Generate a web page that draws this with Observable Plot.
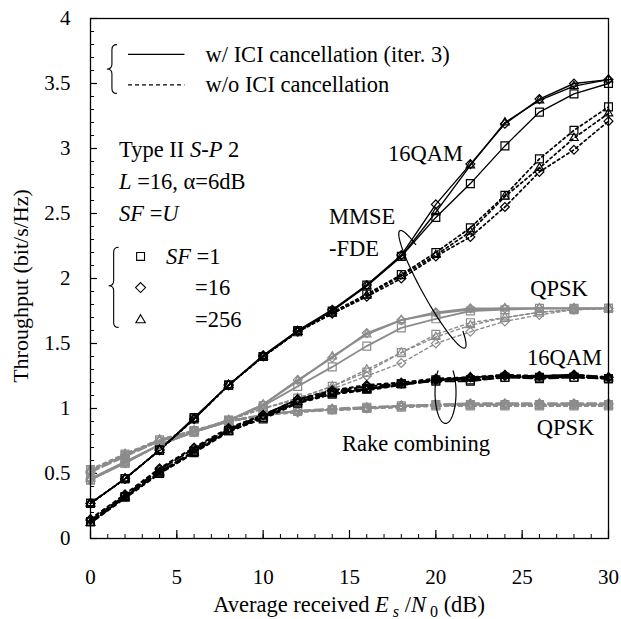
<!DOCTYPE html>
<html><head><meta charset="utf-8">
<script src="https://cdn.jsdelivr.net/npm/d3@7"></script>
<script src="https://cdn.jsdelivr.net/npm/@observablehq/plot@0.6"></script>
<style>body{margin:0;background:#fff}</style>
</head><body><div id="chart"></div>
<script>
const FONT = "'Liberation Serif', 'DejaVu Serif', serif";
const GRAY = "#8c8c8c";

// x values (Es/N0 in dB)
const snr = [0,2,4,6,8,10,12,14,16,18,20,22,24,26,28,30];

// MMSE-FDE, 16QAM
const mmse16_w_sf1   = [0.27,0.46,0.68,0.93,1.18,1.40,1.60,1.75,1.95,2.17,2.47,2.73,3.02,3.28,3.42,3.50];
const mmse16_w_sf16  = [0.27,0.46,0.68,0.92,1.18,1.41,1.60,1.76,1.95,2.18,2.57,2.88,3.19,3.38,3.50,3.53];
const mmse16_w_sf256 = [0.27,0.46,0.68,0.92,1.18,1.40,1.59,1.75,1.94,2.17,2.51,2.87,3.20,3.37,3.48,3.53];
const mmse16_wo_sf1   = [0.27,0.46,0.68,0.92,1.18,1.40,1.59,1.74,1.88,2.03,2.20,2.39,2.64,2.92,3.14,3.32];
const mmse16_wo_sf16  = [0.27,0.46,0.68,0.92,1.18,1.40,1.59,1.73,1.86,2.00,2.17,2.32,2.55,2.82,2.99,3.21];
const mmse16_wo_sf256 = [0.27,0.46,0.68,0.92,1.18,1.40,1.59,1.73,1.87,2.02,2.18,2.36,2.63,2.85,3.08,3.27];
// MMSE-FDE, QPSK
const mmseQ_w_sf1   = [0.45,0.58,0.72,0.82,0.91,1.02,1.17,1.32,1.48,1.62,1.69,1.75,1.76,1.77,1.77,1.77];
const mmseQ_w_sf16  = [0.46,0.59,0.72,0.82,0.91,1.03,1.22,1.39,1.58,1.68,1.74,1.77,1.77,1.77,1.77,1.77];
const mmseQ_w_sf256 = [0.46,0.59,0.72,0.82,0.91,1.03,1.21,1.40,1.57,1.68,1.73,1.76,1.77,1.77,1.77,1.77];
const mmseQ_wo_sf1   = [0.45,0.58,0.72,0.82,0.91,1.00,1.08,1.17,1.28,1.43,1.57,1.66,1.70,1.74,1.76,1.77];
const mmseQ_wo_sf16  = [0.45,0.58,0.72,0.82,0.91,1.00,1.07,1.15,1.25,1.35,1.50,1.59,1.67,1.72,1.76,1.77];
const mmseQ_wo_sf256 = [0.46,0.58,0.72,0.82,0.91,1.00,1.08,1.17,1.30,1.43,1.55,1.64,1.70,1.74,1.76,1.77];
// Rake combining, 16QAM
const rake16_w_sf1   = [0.13,0.32,0.51,0.67,0.83,0.93,1.05,1.12,1.15,1.19,1.21,1.21,1.24,1.23,1.24,1.23];
const rake16_w_sf16  = [0.14,0.33,0.53,0.69,0.84,0.95,1.07,1.13,1.17,1.19,1.22,1.24,1.25,1.25,1.26,1.24];
const rake16_w_sf256 = [0.12,0.32,0.51,0.67,0.83,0.94,1.05,1.12,1.15,1.18,1.22,1.23,1.25,1.24,1.25,1.24];
const rake16_wo_sf1   = [0.13,0.32,0.50,0.66,0.83,0.92,1.04,1.11,1.15,1.19,1.22,1.22,1.24,1.24,1.24,1.23];
const rake16_wo_sf16  = [0.15,0.34,0.54,0.70,0.85,0.95,1.07,1.14,1.18,1.20,1.23,1.24,1.26,1.25,1.26,1.24];
const rake16_wo_sf256 = [0.12,0.31,0.50,0.66,0.82,0.93,1.05,1.11,1.14,1.18,1.22,1.24,1.25,1.24,1.25,1.23];
// Rake combining, QPSK
const rakeQ_w_sf1   = [0.52,0.64,0.75,0.82,0.90,0.95,0.98,0.99,1.01,1.02,1.03,1.03,1.03,1.03,1.03,1.03];
const rakeQ_w_sf16  = [0.51,0.63,0.75,0.82,0.90,0.95,0.98,1.00,1.01,1.02,1.03,1.04,1.04,1.04,1.04,1.04];
const rakeQ_w_sf256 = [0.52,0.64,0.76,0.83,0.90,0.95,0.98,0.99,1.00,1.02,1.02,1.03,1.03,1.03,1.03,1.03];
const rakeQ_wo_sf1   = [0.53,0.65,0.76,0.83,0.91,0.95,0.98,0.99,1.00,1.01,1.02,1.02,1.02,1.02,1.02,1.02];
const rakeQ_wo_sf16  = [0.52,0.64,0.75,0.82,0.90,0.95,0.97,0.99,1.00,1.02,1.03,1.03,1.03,1.03,1.03,1.03];
const rakeQ_wo_sf256 = [0.53,0.65,0.76,0.83,0.90,0.95,0.98,0.99,1.00,1.01,1.02,1.02,1.02,1.02,1.02,1.02];

const xTicks = [0,5,10,15,20,25,30];
const yTicks = [0,0.5,1,1.5,2,2.5,3,3.5,4];
const sfValues = [1,16,256];
const sfSymbols = ["square2","diamond2","triangle2"];

// series table
const seriesDefs = [
  ["MMSE","16QAM","w",[mmse16_w_sf1,mmse16_w_sf16,mmse16_w_sf256]],
  ["MMSE","16QAM","wo",[mmse16_wo_sf1,mmse16_wo_sf16,mmse16_wo_sf256]],
  ["MMSE","QPSK","w",[mmseQ_w_sf1,mmseQ_w_sf16,mmseQ_w_sf256]],
  ["MMSE","QPSK","wo",[mmseQ_wo_sf1,mmseQ_wo_sf16,mmseQ_wo_sf256]],
  ["Rake","16QAM","w",[rake16_w_sf1,rake16_w_sf16,rake16_w_sf256]],
  ["Rake","16QAM","wo",[rake16_wo_sf1,rake16_wo_sf16,rake16_wo_sf256]],
  ["Rake","QPSK","w",[rakeQ_w_sf1,rakeQ_w_sf16,rakeQ_w_sf256]],
  ["Rake","QPSK","wo",[rakeQ_wo_sf1,rakeQ_wo_sf16,rakeQ_wo_sf256]],
];
const rows = [];
for (const [rx, mod, ici, arrs] of seriesDefs) {
  arrs.forEach((arr, k) => arr.forEach((v, i) => rows.push({x: snr[i], y: v, rx, mod, ici, sf: sfValues[k], group: `${rx}-${mod}-${ici}`})));
}

const styles = {
  "Rake-QPSK-w":   {stroke: GRAY, strokeWidth: 2, strokeDasharray: "9,4"},
  "Rake-QPSK-wo":  {stroke: GRAY, strokeWidth: 2, strokeDasharray: "3,4"},
  "MMSE-QPSK-w":   {stroke: GRAY, strokeWidth: 1.8},
  "MMSE-QPSK-wo":  {stroke: GRAY, strokeWidth: 1.4, strokeDasharray: "3,3"},
  "Rake-16QAM-w":  {stroke: "black", strokeWidth: 2, strokeDasharray: "9,4"},
  "Rake-16QAM-wo": {stroke: "black", strokeWidth: 2, strokeDasharray: "3,4"},
  "MMSE-16QAM-w":  {stroke: "black", strokeWidth: 1.4},
  "MMSE-16QAM-wo": {stroke: "black", strokeWidth: 1.7, strokeDasharray: "2.5,3"},
};
const symbolR = {"square2": 5, "diamond2": 4, "triangle2": 4};

const lineMarks = [];
const dotMarks = [];
for (const g of Object.keys(styles)) {
  const data = rows.filter(d => d.group === g);
  lineMarks.push(Plot.line(data, {x: "x", y: "y", z: "sf", ...styles[g]}));
  sfValues.forEach((sf, k) => {
    dotMarks.push(Plot.dot(data.filter(d => d.sf === sf), {x: "x", y: "y", symbol: sfSymbols[k], r: symbolR[sfSymbols[k]], stroke: styles[g].stroke, strokeWidth: 1.2, fill: "none"}));
  });
}

// annotation layout (data coordinates)
const notes = [
  {x: 6.69, y: 3.724, parts: [["w/ ICI cancellation (iter. 3)"]]},
  {x: 6.69, y: 3.49, parts: [["w/o ICI cancellation"]]},
  {x: 1.68, y: 2.99, parts: [["Type II "],["S-P","i"],[" 2"]]},
  {x: 1.68, y: 2.745, parts: [["L","i"],[" =16, α=6dB"]]},
  {x: 1.68, y: 2.5, parts: [["SF","i"],[" ="],["U","i"]]},
  {x: 4.4, y: 2.17, parts: [["SF","i"],[" =1"]]},
  {x: 6.08, y: 1.93, parts: [["=16"]]},
  {x: 6.08, y: 1.68, parts: [["=256"]]},
  {x: 19.43, y: 2.96, anchor: "middle", parts: [["16QAM"]]},
  {x: 13.84, y: 2.475, parts: [["MMSE"]]},
  {x: 13.84, y: 2.23, parts: [["-FDE"]]},
  {x: 27.16, y: 1.92, anchor: "middle", parts: [["QPSK"]]},
  {x: 27.48, y: 1.39, anchor: "middle", parts: [["16QAM"]]},
  {x: 27.54, y: 0.85, anchor: "middle", parts: [["QPSK"]]},
  {x: 18.88, y: 0.73, anchor: "middle", parts: [["Rake combining"]]},
];
const legendLines = [
  {x1: 2.2, x2: 5.47, y: 3.724, dash: null},
  {x1: 2.2, x2: 5.47, y: 3.49, dash: "4,3"},
];
const legendMarks = [
  {x: 2.9, y: 2.17, symbol: "square2", r: 5},
  {x: 2.9, y: 1.93, symbol: "diamond2", r: 4.5},
  {x: 2.9, y: 1.68, symbol: "triangle2", r: 4.5},
];
const braces = [
  {x: 1.27, y1: 3.795, y2: 3.42},
  {x: 1.37, y1: 2.236, y2: 1.62, ym: 1.94},
];
const lassos = [
  // center (data), semi-axes (px), rotation (deg), drawn arc range (rad)
  {cx: 19.83, cy: 1.913, a: 67, b: 10, rot: 61, t0: -0.7, t1: Math.PI + 0.8},
  {cx: 20.59, cy: 1.12, a: 31, b: 10.5, rot: 90, t0: -Math.PI * 0.75, t1: Math.PI * 0.75},
];

function annotations(index, scales, values, dims) {
  const {x, y} = scales;
  const g = d3.create("svg:g").attr("font-family", FONT).attr("font-size", 22.5).attr("fill", "black");
  for (const n of notes) {
    const t = g.append("text").attr("x", x(n.x)).attr("y", y(n.y)).attr("dy", "0.35em")
      .attr("text-anchor", n.anchor || "start");
    for (const [s, st] of n.parts) {
      const sp = t.append("tspan").text(s);
      if (st === "i") sp.attr("font-style", "italic");
    }
  }
  for (const b of braces) {
    const X = x(b.x), Y1 = y(b.y1), Y2 = y(b.y2), Ym = b.ym != null ? y(b.ym) : (Y1 + Y2) / 2, w = 5;
    const d = `M${X + w},${Y1} Q${X},${Y1} ${X},${Y1 + w} L${X},${Ym - w} Q${X},${Ym} ${X - w},${Ym} Q${X},${Ym} ${X},${Ym + w} L${X},${Y2 - w} Q${X},${Y2} ${X + w},${Y2}`;
    g.append("path").attr("d", d).attr("fill", "none").attr("stroke", "black").attr("stroke-width", 1.1);
  }
  for (const L of lassos) {
    const cx = x(L.cx), cy = y(L.cy), th = L.rot * Math.PI / 180;
    const ux = Math.cos(th), uy = Math.sin(th), vx = -Math.sin(th), vy = Math.cos(th);
    const pts = d3.range(0, 121).map(i => {
      const t = L.t0 + (L.t1 - L.t0) * i / 120;
      return [cx + L.a * Math.cos(t) * ux + L.b * Math.sin(t) * vx, cy + L.a * Math.cos(t) * uy + L.b * Math.sin(t) * vy];
    });
    g.append("path").attr("d", d3.line()(pts)).attr("fill", "none").attr("stroke", "black").attr("stroke-width", 1.2);
  }
  // axis titles
  const cxp = (dims.marginLeft + dims.width - dims.marginRight) / 2;
  const xt = g.append("text").attr("x", cxp).attr("y", dims.height - 7).attr("text-anchor", "middle");
  xt.append("tspan").text("Average received ");
  xt.append("tspan").text("E").attr("font-style", "italic");
  xt.append("tspan").text(" s").attr("font-style", "italic").attr("font-size", 16).attr("dy", 5);
  xt.append("tspan").text(" /").attr("dy", -5);
  xt.append("tspan").text("N").attr("font-style", "italic");
  xt.append("tspan").text(" 0").attr("font-size", 16).attr("dy", 5);
  xt.append("tspan").text(" (dB)").attr("dy", -5);
  const cyp = (dims.marginTop + dims.height - dims.marginBottom) / 2 + 8;
  g.append("text").attr("transform", `translate(28,${cyp}) rotate(-90)`).attr("text-anchor", "middle").attr("font-size", 22).text("Throughput (bit/s/Hz)");
  return g.node();
}

const frameW = 621 - 90 - 13, frameH = 619 - 18 - 81;

const plot = Plot.plot({
  width: 621, height: 619,
  marginLeft: 90, marginRight: 13, marginTop: 18, marginBottom: 81,
  style: {fontFamily: FONT, fontSize: "21px", background: "white"},
  x: {domain: [0, 30]},
  y: {domain: [0, 4]},
  marks: [
    Plot.tickX(d3.range(0, 31, 1), {stroke: "black", strokeWidth: 1, insetTop: frameH - 4}),
    Plot.tickX(xTicks, {stroke: "black", strokeWidth: 1.2, insetTop: frameH - 8}),
    Plot.tickY(d3.range(0, 41).map(i => i / 10), {stroke: "black", strokeWidth: 1, insetRight: frameW - 4}),
    Plot.tickY(yTicks, {stroke: "black", strokeWidth: 1.2, insetRight: frameW - 7}),
    Plot.axisX({ticks: xTicks, tickSize: 0, tickPadding: 31, label: null, tickFormat: d => String(d), fontSize: 21}),
    Plot.axisY({ticks: yTicks, tickSize: 0, tickPadding: 20, label: null, tickFormat: d => String(d), fontSize: 21}),
    ...lineMarks,
    ...dotMarks,
    ...legendLines.map(l => Plot.ruleY([l.y], {x1: l.x1, x2: l.x2, stroke: "black", strokeWidth: 1.3, strokeDasharray: l.dash})),
    ...legendMarks.map(m => Plot.dot([m], {x: "x", y: "y", symbol: m.symbol, r: m.r, stroke: "black", strokeWidth: 1.1, fill: "none"})),
    annotations,
    Plot.frame({stroke: "black", strokeWidth: 1.3})
  ]
});
document.getElementById("chart").appendChild(plot);
</script>
</body></html>
